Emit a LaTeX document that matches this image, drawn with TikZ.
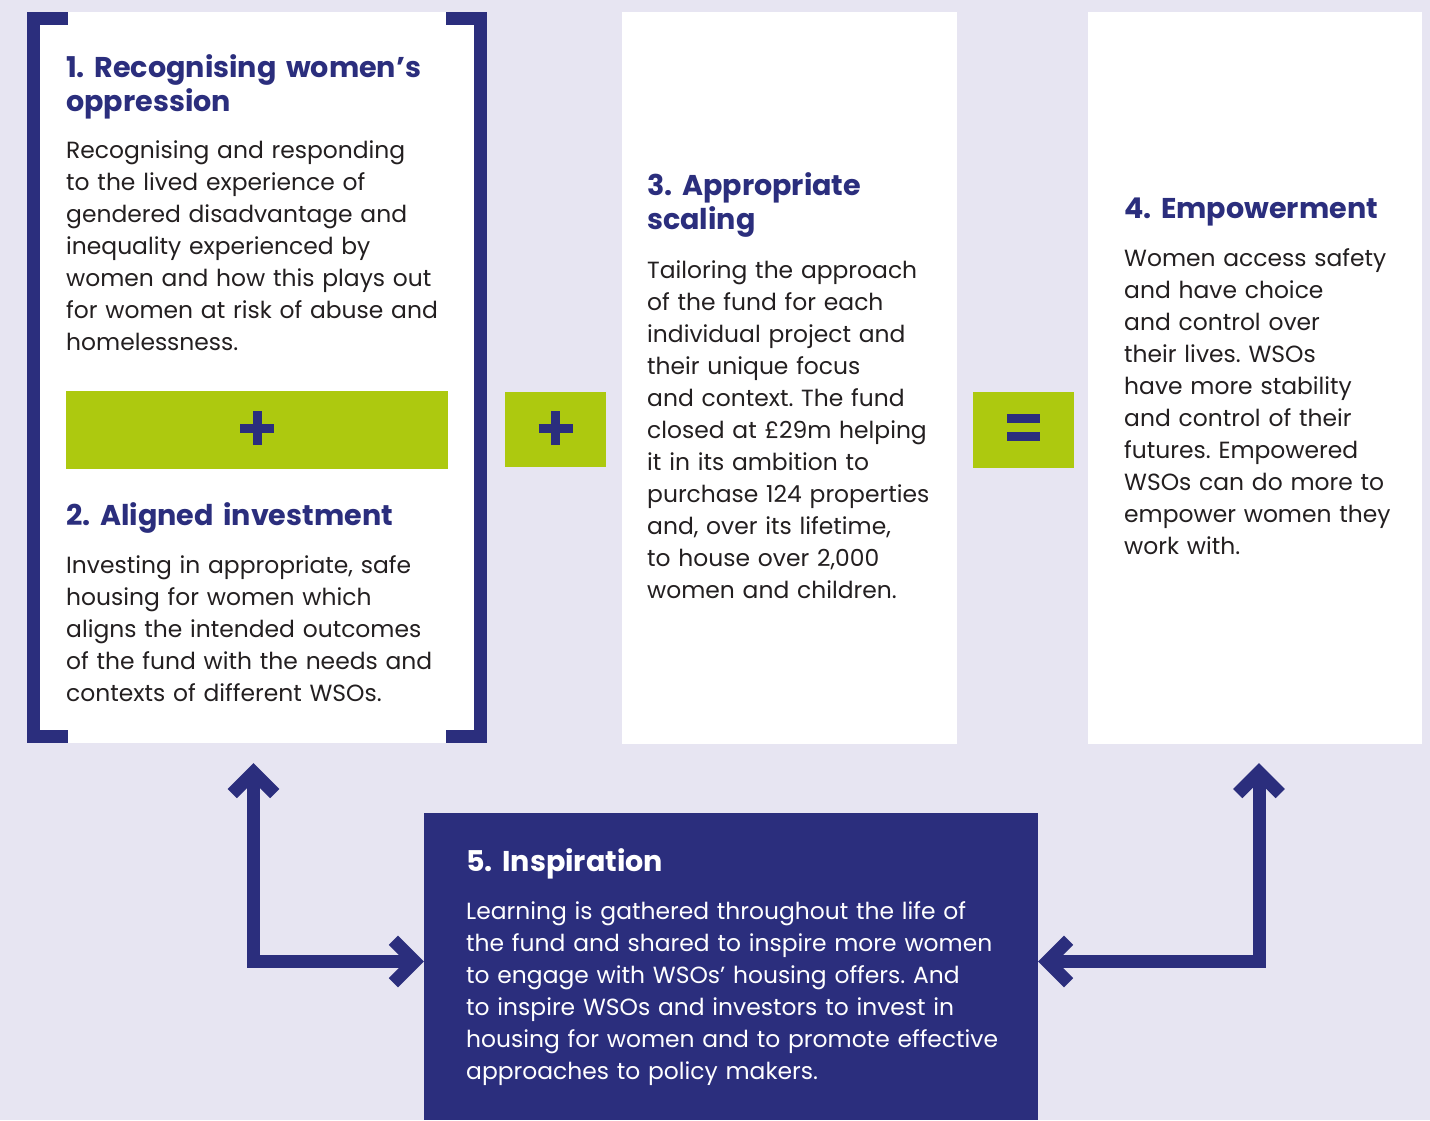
\documentclass[tikz,border=0pt]{standalone}
\usepackage{fontspec}
\setmainfont{Poppins}
\frenchspacing
\usetikzlibrary{arrows.meta,positioning}
\definecolor{lavanda}{HTML}{E7E5F2}
\definecolor{navy}{HTML}{2B2E7D}
\definecolor{lime}{HTML}{ADC90F}
\definecolor{ink}{HTML}{231F20}

\tikzset{
  panel/.style={rectangle, fill=white, inner sep=0pt},
  tile/.style={rectangle, fill=lime, inner sep=0pt},
  title/.style={anchor=base west, inner sep=0pt, text=navy, text width=560pt, align=left, font=\fontsize{28.6}{34.5}\selectfont\bfseries\frenchspacing},
  body/.style={anchor=base west, inner sep=0pt, text=ink, text width=560pt, align=left, font=\fontsize{23.4}{32}\selectfont\frenchspacing},
  brace/.style={draw=navy, line width=13pt},
  sign/.style={draw=navy, line width=9pt},
  link/.style={draw=navy, line width=13pt, {Straight Barb[angle=90:30pt]}-{Straight Barb[angle=90:30pt]}},
}

\begin{document}
\begin{tikzpicture}[x=1pt, y=-1pt]
  \fill[lavanda] (0,0) rectangle (1430,1120);
  \useasboundingbox (0,0) rectangle (1430,1120);

  % Pannelli
  \node[panel, minimum width=460pt, minimum height=731pt] (recog) at (257,377.5) {};
  \node[panel, minimum width=335pt, minimum height=732pt] (scaling) at (789.5,378) {};
  \node[panel, minimum width=334pt, minimum height=732pt] (empower) at (1255,378) {};
  \node[rectangle, fill=navy, inner sep=0pt, minimum width=614pt, minimum height=307pt] (inspire) at (731,966.5) {};

  % Parentesi
  \draw[brace] ([xshift=41pt,yshift=-6.5pt]recog.north west) -- ([xshift=6.5pt,yshift=-6.5pt]recog.north west)
    -- ([xshift=6.5pt,yshift=6.5pt]recog.south west) -- ([xshift=41pt,yshift=6.5pt]recog.south west);
  \draw[brace] ([xshift=-41pt,yshift=-6.5pt]recog.north east) -- ([xshift=-6.5pt,yshift=-6.5pt]recog.north east)
    -- ([xshift=-6.5pt,yshift=6.5pt]recog.south east) -- ([xshift=-41pt,yshift=6.5pt]recog.south east);

  % Segni
  \node[tile, minimum width=382pt, minimum height=78pt] (plusbar) at (257,430) {};
  \node[tile, minimum width=101pt, minimum height=75pt] (plustile) at (555.5,429.5) {};
  \node[tile, minimum width=101pt, minimum height=76pt] (eqtile) at (1023.5,430) {};
  \draw[sign] ([xshift=-17pt,yshift=2pt]plusbar.center) -- ([xshift=17pt,yshift=2pt]plusbar.center);
  \draw[sign] ([yshift=19pt]plusbar.center) -- ([yshift=-15pt]plusbar.center);
  \draw[sign] ([xshift=-17pt,yshift=1.5pt]plustile.center) -- ([xshift=17pt,yshift=1.5pt]plustile.center);
  \draw[sign] ([yshift=18.5pt]plustile.center) -- ([yshift=-15.5pt]plustile.center);
  \draw[sign] ([xshift=-16.5pt,yshift=11.5pt]eqtile.center) -- ([xshift=16.5pt,yshift=11.5pt]eqtile.center);
  \draw[sign] ([xshift=-16.5pt,yshift=-6.5pt]eqtile.center) -- ([xshift=16.5pt,yshift=-6.5pt]eqtile.center);

  % Testi
  \node[title] (t1) at (66,77) {1. Recognising women’s\\oppression};
  \node[body] (b1) at (66,158) {Recognising and responding\\to the lived experience of\\gendered disadvantage and\\inequality experienced by\\women and how this plays out\\for women at risk of abuse and\\homelessness.};
  \node[title] (t2) at (66,525) {2. Aligned investment};
  \node[body] (b2) at (66,573) {Investing in appropriate, safe\\housing for women which\\aligns the intended outcomes\\of the fund with the needs and\\contexts of different WSOs.};
  \node[title] (t3) at (647,195) {3. Appropriate\\scaling};
  \node[body] (b3) at (647,278) {Tailoring the approach\\of the fund for each\\individual project and\\their unique focus\\and context. The fund\\closed at £29m helping\\it in its ambition to\\purchase 124 properties\\and, over its lifetime,\\to house over 2,000\\women and children.};
  \node[title] (t4) at (1124,218) {4. Empowerment};
  \node[body] (b4) at (1124,266) {Women access safety\\and have choice\\and control over\\their lives. WSOs\\have more stability\\and control of their\\futures. Empowered\\WSOs can do more to\\empower women they\\work with.};
  \node[title, text=white] (t5) at (466,871) {5. Inspiration};
  \node[body, text=white] (b5) at (466,919) {Learning is gathered throughout the life of\\the fund and shared to inspire more women\\to engage with WSOs’ housing offers. And\\to inspire WSOs and investors to invest in\\housing for women and to promote effective\\approaches to policy makers.};

  % Frecce
  \draw[link] ([xshift=-3.5pt,yshift=-20pt]recog.south) |- ([yshift=5pt]inspire.west);
  \draw[link] ([xshift=4pt,yshift=-19pt]empower.south) |- ([yshift=5pt]inspire.east);
\end{tikzpicture}
\end{document}
